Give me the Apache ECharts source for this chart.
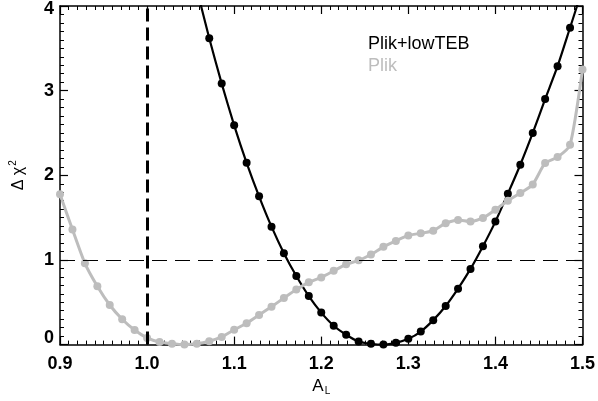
<!DOCTYPE html>
<html>
<head>
<meta charset="utf-8">
<script src="https://cdn.jsdelivr.net/npm/echarts@6/dist/echarts.min.js"></script>
<style>
  html, body { margin: 0; padding: 0; background: #fff; }
  #chart { width: 598px; height: 401px; }
</style>
</head>
<body>
<div id="chart"></div>
<script>
// A_L grid (black curve starts at 1.0571, gray covers full range)
var alGray = [0.9, 0.9143, 0.9286, 0.9429, 0.9571, 0.9714, 0.9857, 1.0, 1.0143, 1.0286,
  1.0429, 1.0571, 1.0714, 1.0857, 1.1, 1.1143, 1.1286, 1.1429, 1.1571, 1.1714,
  1.1857, 1.2, 1.2143, 1.2286, 1.2429, 1.2571, 1.2714, 1.2857, 1.3, 1.3143,
  1.3286, 1.3429, 1.3571, 1.3714, 1.3857, 1.4, 1.4143, 1.4286, 1.4429, 1.4571,
  1.4714, 1.4857, 1.5];
var chiGray = [1.775, 1.36, 0.96, 0.689, 0.468, 0.30, 0.172, 0.079, 0.03, 0.01,
  0.0, 0.01, 0.04, 0.09, 0.175, 0.252, 0.35, 0.448, 0.55, 0.65,
  0.736, 0.794, 0.871, 0.949, 0.995, 1.065, 1.155, 1.225, 1.29, 1.315,
  1.345, 1.434, 1.473, 1.453, 1.496, 1.593, 1.70, 1.79, 1.892, 2.144,
  2.215, 2.36, 3.25];

var alBlack = [1.0571, 1.0714, 1.0857, 1.1, 1.1143, 1.1286, 1.1429, 1.1571, 1.1714,
  1.1857, 1.2, 1.2143, 1.2286, 1.2429, 1.2571, 1.2714, 1.2857, 1.3, 1.3143,
  1.3286, 1.3429, 1.3571, 1.3714, 1.3857, 1.4, 1.4143, 1.4286, 1.4429, 1.4571,
  1.4714, 1.4857, 1.5];
var chiBlack = [4.2, 3.618, 3.083, 2.59, 2.148, 1.752, 1.393, 1.08, 0.81,
  0.573, 0.378, 0.223, 0.117, 0.037, 0.01, 0.0, 0.021, 0.068, 0.154,
  0.289, 0.456, 0.661, 0.894, 1.162, 1.453, 1.783, 2.125, 2.50, 2.90,
  3.289, 3.743, 4.2];

var names = ['Plik+lowTEB', 'Plik'];
var GRAY = '#bdbdbd';
var FONT = '"Liberation Sans", Arial, Helvetica, sans-serif';

function zip(xs, ys) {
  var out = [];
  for (var i = 0; i < xs.length; i++) out.push([xs[i], ys[i]]);
  return out;
}

var chart = echarts.init(document.getElementById('chart'), null, { renderer: 'canvas' });

function xAx(pos, labels) {
  return {
    type: 'value', position: pos, min: 0.9, max: 1.5, interval: 0.1,
    axisLine: { show: true, onZero: false, lineStyle: { color: '#000', width: 1.5 } },
    axisTick: { show: true, inside: true, length: 8, lineStyle: { color: '#000', width: 1.2 } },
    minorTick: { show: true, splitNumber: 10, length: 4, lineStyle: { color: '#000', width: 1 } },
    splitLine: { show: false },
    axisLabel: {
      show: labels, margin: 10, color: '#000', fontFamily: FONT, fontWeight: 'bold', fontSize: 18,
      formatter: function (v) { return v.toFixed(1); }
    }
  };
}
function yAx(pos, labels) {
  return {
    type: 'value', position: pos, min: 0, max: 4, interval: 1,
    axisLine: { show: true, onZero: false, lineStyle: { color: '#000', width: 1.5 } },
    axisTick: { show: true, inside: true, length: 8, lineStyle: { color: '#000', width: 1.2 } },
    minorTick: { show: true, splitNumber: 10, length: 4, lineStyle: { color: '#000', width: 1 } },
    splitLine: { show: false },
    axisLabel: {
      show: labels, margin: 6, color: '#000', fontFamily: FONT, fontWeight: 'bold', fontSize: 18,
      formatter: function (v) {
        if (v === 0) return '{lo|0}';
        if (v === 4) return '{hi|4}';
        return String(v);
      },
      rich: {
        lo: { fontFamily: FONT, fontWeight: 'bold', fontSize: 18, color: '#000', padding: [0, 0, 14, 0] },
        hi: { fontFamily: FONT, fontWeight: 'bold', fontSize: 18, color: '#000', padding: [6, 0, 0, 0] }
      }
    }
  };
}

var xBottom = xAx('bottom', true);
xBottom.name = '{a|A}{s|L}';
xBottom.nameLocation = 'middle';
xBottom.nameGap = 27;
xBottom.nameTextStyle = {
  rich: {
    a: { fontFamily: FONT, fontSize: 17, color: '#000' },
    s: { fontFamily: FONT, fontSize: 10, color: '#000', padding: [10, 0, 0, 1] }
  }
};
var xTop = xAx('top', false);

var yLeft = yAx('left', true);
yLeft.name = '{a|Δ χ}{s|2}';
yLeft.nameLocation = 'middle';
yLeft.nameGap = 30;
yLeft.nameTextStyle = {
  rich: {
    a: { fontFamily: FONT, fontSize: 16, color: '#000' },
    s: { fontFamily: FONT, fontSize: 10, color: '#000', padding: [0, 0, 12, 1] }
  }
};
var yRight = yAx('right', false);

var option = {
  animation: false,
  backgroundColor: '#fff',
  grid: { left: 53, right: 13, top: 4, bottom: 54, containLabel: false },
  legend: {
    data: [
      { name: names[0], textStyle: { color: '#000' } },
      { name: names[1], textStyle: { color: GRAY } }
    ],
    icon: 'none',
    itemWidth: 0,
    itemGap: 4,
    orient: 'vertical',
    left: 358,
    top: 30,
    selectedMode: false,
    textStyle: { fontFamily: FONT, fontSize: 18 }
  },
  xAxis: [xBottom, xTop],
  yAxis: [yLeft, yRight],
  series: [
    {
      name: names[0],
      type: 'line',
      data: zip(alBlack, chiBlack),
      color: '#000',
      lineStyle: { color: '#000', width: 2.2 },
      symbol: 'circle',
      symbolSize: 8,
      itemStyle: { color: '#000' },
      smooth: 0.2,
      clip: true,
      z: 3,
      markLine: {
        silent: true,
        symbol: 'none',
        label: { show: false },
        data: [
          { xAxis: 1.0, lineStyle: { color: '#000', width: 3, type: [13, 6] } },
          { yAxis: 1, lineStyle: { color: '#000', width: 1, type: [15, 8] } }
        ]
      }
    },
    {
      name: names[1],
      type: 'line',
      data: zip(alGray, chiGray),
      color: GRAY,
      lineStyle: { color: GRAY, width: 3 },
      symbol: 'circle',
      symbolSize: 8,
      itemStyle: { color: GRAY },
      smooth: 0.2,
      clip: true,
      z: 4
    }
  ]
};
chart.setOption(option);
</script>
</body>
</html>
